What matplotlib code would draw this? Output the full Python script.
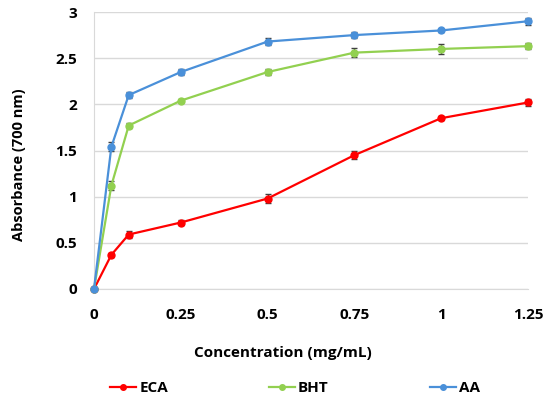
import matplotlib
matplotlib.use("Agg")
import matplotlib.pyplot as plt
from matplotlib.lines import Line2D

conc = [0, 0.05, 0.1, 0.25, 0.5, 0.75, 1.0, 1.25]
eca = [0, 0.37, 0.59, 0.72, 0.98, 1.45, 1.85, 2.02]
eca_err = [0, 0.02, 0.04, 0.03, 0.05, 0.04, 0.02, 0.04]
bht = [0, 1.12, 1.77, 2.04, 2.35, 2.56, 2.60, 2.63]
bht_err = [0, 0.05, 0.03, 0.02, 0.03, 0.05, 0.05, 0.03]
aa = [0, 1.54, 2.10, 2.35, 2.68, 2.75, 2.80, 2.90]
aa_err = [0, 0.05, 0.03, 0.03, 0.04, 0.03, 0.02, 0.04]

xticks = [0, 0.25, 0.5, 0.75, 1, 1.25]
xticklabels = ["0", "0.25", "0.5", "0.75", "1", "1.25"]
yticks = [0, 0.5, 1, 1.5, 2, 2.5, 3]
yticklabels = ["0", "0.5", "1", "1.5", "2", "2.5", "3"]

plt.rcParams['font.family'] = ['Open Sans', 'DejaVu Sans']
plt.rcParams['font.weight'] = 'bold'

W, H = 550, 399
fig = plt.figure(figsize=(5.5, 3.99), dpi=100)
ax = fig.add_axes([94 / W, 1 - 289 / H, 434 / W, 277 / H])

series = [("ECA", eca, eca_err, "#ff0000"),
          ("BHT", bht, bht_err, "#92d050"),
          ("AA", aa, aa_err, "#4a90d9")]
for name, y, e, c in series:
    ax.errorbar(conc, y, yerr=e, color=c, marker='o', markersize=5, lw=1.6,
                ecolor="#404040", elinewidth=1, capsize=2.5, capthick=1,
                label=name, zorder=3, clip_on=False)

ax.set_xlim(0, 1.25)
ax.set_ylim(0, 3)
ax.set_xticks(xticks)
ax.set_xticklabels(xticklabels, fontweight='bold')
ax.set_yticks(yticks)
ax.set_yticklabels(yticklabels, fontweight='bold')
ax.tick_params(axis='x', length=0, labelsize=11, pad=14)
ax.tick_params(axis='y', length=0, labelsize=11, pad=12)
ax.grid(axis='y', color='#d9d9d9', lw=1)
ax.set_axisbelow(True)
for s in ['top', 'right']:
    ax.spines[s].set_visible(False)
ax.spines['left'].set_color('#d9d9d9')
ax.spines['bottom'].set_color('#d9d9d9')

fig.text(283 / W, 1 - 353 / H, "Concentration (mg/mL)", fontsize=11,
         fontweight='bold', ha='center', va='center')
fig.text(19 / W, 1 - 165 / H, "Absorbance (700 nm)", fontsize=10.5,
         fontweight='bold', ha='center', va='center', rotation=90)

labels = [s[0] for s in series]
hs = [Line2D([], [], color=c, marker='o', markersize=4, lw=1.6) for _, _, _, c in series]
fig.legend(hs, labels, loc='center', bbox_to_anchor=(295 / W, 1 - 388 / H), ncol=3,
           frameon=False, prop={'weight': 'bold', 'size': 11},
           columnspacing=6.6, handlelength=1.7, handletextpad=0.2,
           borderpad=0, borderaxespad=0)

fig.savefig("out.png", dpi=100)
